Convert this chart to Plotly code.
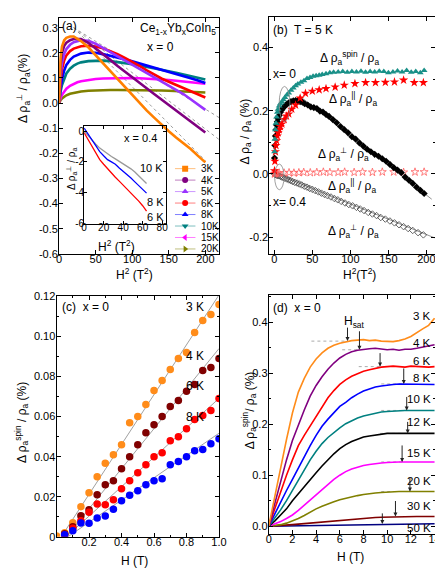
import plotly.graph_objects as go

W, H = 443, 568
FONT = "Liberation Sans, Arial, sans-serif"

# ================= DATA =================
# ---- panel (a): Δρ⊥/ρ (%) vs H^2, x = 0 ----
a_temps = ["3K", "4K", "5K", "6K", "8K", "10K", "15K", "20K"]
a_colors = ["#FF8000", "#800080", "#9933FF", "#FF0000", "#0000FF", "#008080", "#FF00FF", "#808000"]
a_symbols = ["square", "circle", "triangle-up", "circle", "triangle-up", "triangle-down", "triangle-left", "triangle-right"]
a_h2 = [0, 0.5, 1, 2, 4, 7, 10, 15, 20, 25, 30, 40, 50, 60, 70, 80, 90, 100, 110, 120, 130, 140, 150, 160, 170, 180, 190, 200]
a_3K = [0, 0.09, 0.13, 0.18, 0.225, 0.25, 0.26, 0.265, 0.265, 0.257, 0.247, 0.222, 0.19, 0.16, 0.128, 0.096, 0.064, 0.032, 0.0, -0.03, -0.058, -0.086, -0.112, -0.137, -0.16, -0.183, -0.21, -0.236]
a_4K = [0, 0.06, 0.1, 0.15, 0.2, 0.228, 0.24, 0.25, 0.255, 0.256, 0.255, 0.24, 0.218, 0.196, 0.172, 0.148, 0.125, 0.102, 0.08, 0.058, 0.036, 0.014, -0.008, -0.03, -0.052, -0.074, -0.096, -0.117]
a_5K = [0, 0.04, 0.07, 0.11, 0.16, 0.195, 0.215, 0.232, 0.242, 0.247, 0.25, 0.248, 0.236, 0.22, 0.203, 0.186, 0.17, 0.153, 0.136, 0.12, 0.103, 0.086, 0.07, 0.053, 0.036, 0.015, -0.006, -0.027]
a_6K = [0, 0.03, 0.055, 0.09, 0.135, 0.17, 0.19, 0.207, 0.217, 0.222, 0.226, 0.228, 0.225, 0.218, 0.208, 0.195, 0.18, 0.165, 0.148, 0.13, 0.113, 0.098, 0.085, 0.073, 0.061, 0.048, 0.035, 0.022]
a_8K = [0, 0.02, 0.035, 0.06, 0.095, 0.13, 0.152, 0.172, 0.185, 0.192, 0.197, 0.201, 0.2, 0.195, 0.189, 0.182, 0.174, 0.166, 0.158, 0.15, 0.141, 0.133, 0.124, 0.116, 0.107, 0.099, 0.09, 0.08]
a_10K = [0, 0.015, 0.027, 0.045, 0.072, 0.1, 0.118, 0.137, 0.149, 0.157, 0.162, 0.167, 0.169, 0.169, 0.167, 0.164, 0.16, 0.155, 0.15, 0.145, 0.139, 0.133, 0.127, 0.121, 0.115, 0.109, 0.102, 0.094]
a_15K = [0, 0.006, 0.011, 0.02, 0.033, 0.047, 0.057, 0.069, 0.077, 0.083, 0.087, 0.093, 0.096, 0.098, 0.099, 0.1, 0.1, 0.1, 0.099, 0.098, 0.096, 0.094, 0.092, 0.089, 0.086, 0.083, 0.08, 0.077]
a_20K = [0, 0.004, 0.007, 0.012, 0.019, 0.026, 0.031, 0.037, 0.041, 0.044, 0.046, 0.049, 0.051, 0.052, 0.052, 0.052, 0.052, 0.052, 0.052, 0.051, 0.05, 0.05, 0.049, 0.048, 0.047, 0.046, 0.044, 0.042]
a_series = [a_3K, a_4K, a_5K, a_6K, a_8K, a_10K, a_15K, a_20K]
# high-field linear fits (dotted) for 3K, 4K, 5K
a_fit_slope = [-0.00294, -0.00224, -0.0018]
a_fit_icpt = [0.359, 0.345, 0.336]
a_fit_from = [20, 20, 20]
a_fit_to = [200, 218.7, 218.7]

# ---- inset of (a): x = 0.4 ----
in_h2 = [0, 4, 8, 12, 16, 20, 24, 28, 32, 36, 40, 44, 48, 52, 56, 60, 64]
in_6K = [-0.1, -0.55, -1.0, -1.45, -1.85, -2.15, -2.45, -2.7, -3.0, -3.25, -3.5, -3.75, -4.0, -4.3, -4.55, -4.85, -5.2]
in_8K = [0.2, -0.2, -0.55, -0.95, -1.33, -1.6, -1.85, -2.0, -2.15, -2.4, -2.6, -2.85, -3.05, -3.3, -3.55, -3.8, -4.03]
in_10K = [0.0, -0.3, -0.55, -0.85, -1.1, -1.3, -1.5, -1.65, -1.8, -1.95, -2.1, -2.25, -2.45, -2.65, -2.9, -3.15, -3.4]

# ---- panel (b): T = 5 K ----
b_h2_spin = [0.3, 0.8, 1.5, 2.2, 3, 4, 5, 6.5, 8, 10, 12, 14, 16.5, 19, 22, 25, 28, 31, 35, 39, 43, 47, 51, 55, 59, 63, 68, 73, 78, 84, 90, 96, 102, 108, 114, 120, 126, 132, 138, 144, 150, 156, 162, 168, 174, 180, 186, 192, 197]
b_spin = [0.07, 0.11, 0.14, 0.16, 0.18, 0.195, 0.205, 0.215, 0.222, 0.228, 0.235, 0.242, 0.25, 0.256, 0.265, 0.272, 0.279, 0.285, 0.29, 0.295, 0.302, 0.305, 0.309, 0.311, 0.312, 0.315, 0.317, 0.32, 0.322, 0.323, 0.324, 0.322, 0.324, 0.323, 0.325, 0.322, 0.324, 0.323, 0.325, 0.324, 0.32, 0.323, 0.326, 0.323, 0.327, 0.322, 0.324, 0.32, 0.327]
b_h2_par0 = [0.3, 0.8, 1.5, 2.2, 3, 4, 5, 6.5, 8, 10, 13, 16, 19, 23, 28, 34, 41, 50, 59, 68, 80, 92, 106, 120, 133, 146, 158, 170, 184, 196]
b_par0 = [0.01, 0.04, 0.07, 0.09, 0.105, 0.12, 0.13, 0.14, 0.15, 0.158, 0.172, 0.183, 0.19, 0.205, 0.218, 0.24, 0.255, 0.262, 0.266, 0.27, 0.275, 0.281, 0.286, 0.289, 0.289, 0.29, 0.291, 0.297, 0.289, 0.289]
b_h2_perp0 = [0.3, 0.8, 1.5, 2.2, 3, 4, 5, 6.5, 8, 10, 12, 14, 16.5, 19, 22, 25, 28, 31, 34, 37, 40, 44, 48, 52, 56, 60, 64, 68, 72, 77, 82, 87, 92, 97, 102, 107, 112, 117, 122, 127, 132, 137, 142, 147, 152, 157, 162, 167, 172, 177, 182, 187, 192, 197]
b_perp0 = [0.05, 0.09, 0.12, 0.14, 0.155, 0.165, 0.175, 0.185, 0.195, 0.203, 0.21, 0.215, 0.221, 0.225, 0.229, 0.231, 0.232, 0.231, 0.229, 0.227, 0.222, 0.218, 0.212, 0.21, 0.207, 0.199, 0.196, 0.188, 0.182, 0.172, 0.162, 0.15, 0.14, 0.13, 0.118, 0.11, 0.098, 0.088, 0.078, 0.07, 0.062, 0.056, 0.048, 0.04, 0.03, 0.02, 0.012, 0.004, -0.01, -0.02, -0.03, -0.042, -0.052, -0.062]
b_h2_par4 = [0.3, 1, 2, 3.5, 6.4, 12.9, 19.4, 25.8, 32.3, 38.7, 47.3, 55.9, 64.5, 73.1, 83.9, 92.5, 105, 116, 129, 142, 157, 170, 185, 197]
b_par4 = [0.0, 0.001, 0.002, 0.002, 0.003, 0.003, 0.004, 0.003, 0.004, 0.005, 0.004, 0.005, 0.006, 0.005, 0.005, 0.006, 0.005, 0.006, 0.005, 0.006, 0.006, 0.005, 0.006, 0.006]
b_h2_perp4 = [0.5, 1.5, 3, 4.5, 6, 8, 10, 12, 14, 16.5, 19, 21.5, 24, 27, 30, 33, 36, 39.5, 43, 46.5, 50, 54, 58, 62, 66, 70, 74.5, 79, 83.5, 88, 93, 98, 103, 108, 113, 118, 123.5, 129, 134.5, 140, 146, 152, 158, 164, 170, 176, 182, 189, 196]
b_perp4 = [-0.001, -0.002, -0.004, -0.005, -0.006, -0.008, -0.01, -0.012, -0.014, -0.016, -0.019, -0.021, -0.024, -0.027, -0.029, -0.032, -0.035, -0.039, -0.042, -0.046, -0.049, -0.053, -0.057, -0.061, -0.065, -0.069, -0.073, -0.078, -0.082, -0.087, -0.092, -0.097, -0.101, -0.106, -0.111, -0.116, -0.122, -0.127, -0.132, -0.138, -0.143, -0.149, -0.155, -0.161, -0.167, -0.173, -0.179, -0.186, -0.193]
# linear fits in (b): x=0 perp and x=0.4 perp
b_fit_slope = [-0.00188, -0.00097]
b_fit_icpt = [0.309, 0.002]
b_fit_from = [33, 0]
b_fit_to = [207, 211]

# ---- panel (c): Δρspin/ρ vs H (low field) ----
c_temps = ["3 K", "4 K", "6 K", "8 K"]
c_colors = ["#FF8C1A", "#800000", "#FF0000", "#0000FF"]
c_h_3K = [0, 0.05, 0.1, 0.15, 0.2, 0.25, 0.3, 0.35, 0.4, 0.45, 0.5, 0.55, 0.6, 0.65, 0.7, 0.75, 0.8, 0.85, 0.9, 0.95, 1.0]
c_3K = [0.0003, 0.002, 0.007, 0.015, 0.022, 0.030, 0.0367, 0.041, 0.046, 0.057, 0.060, 0.066, 0.073, 0.078, 0.0836, 0.089, 0.092, 0.102, 0.108, 0.111, 0.116]
c_h_4K = [0.05, 0.1, 0.15, 0.2, 0.25, 0.3, 0.35, 0.4, 0.45, 0.5, 0.55, 0.6, 0.65, 0.7, 0.75, 0.8, 0.85, 0.9, 0.95, 1.0]
c_4K = [0.0015, 0.005, 0.0105, 0.0135, 0.021, 0.026, 0.028, 0.034, 0.040, 0.046, 0.052, 0.056, 0.060, 0.065, 0.068, 0.0727, 0.076, 0.083, 0.0846, 0.089]
c_h_6K = [0.05, 0.1, 0.15, 0.2, 0.25, 0.3, 0.35, 0.4, 0.45, 0.5, 0.55, 0.6, 0.65, 0.7, 0.75, 0.8, 0.85, 0.9, 0.95, 1.0]
c_6K = [0.001, 0.0042, 0.008, 0.0122, 0.0163, 0.016, 0.0185, 0.024, 0.028, 0.032, 0.036, 0.040, 0.042, 0.048, 0.050, 0.054, 0.0585, 0.0605, 0.063, 0.069]
c_h_8K = [0.05, 0.1, 0.15, 0.2, 0.25, 0.3, 0.35, 0.4, 0.45, 0.5, 0.55, 0.6, 0.65, 0.7, 0.75, 0.8, 0.85, 0.9, 0.95, 1.0]
c_8K = [0.001, 0.003, 0.0068, 0.0067, 0.0093, 0.0104, 0.0137, 0.018, 0.0207, 0.023, 0.026, 0.028, 0.029, 0.036, 0.0376, 0.040, 0.043, 0.0436, 0.0465, 0.049]
c_h = [c_h_3K, c_h_4K, c_h_6K, c_h_8K]
c_series = [c_3K, c_4K, c_6K, c_8K]
c_fit_slope = [0.1245, 0.1, 0.0735, 0.0556]
c_fit_icpt = [-0.0037, -0.006, -0.0044, -0.0039]

# ---- panel (d): Δρspin/ρ vs H up to 14 T ----
d_temps = ["3 K", "4 K", "6 K", "8 K", "10 K", "12 K", "15 K", "20 K", "30 K", "50 K"]
d_colors = ["#FF8C1A", "#800080", "#FF0000", "#0000FF", "#008080", "#000000", "#FF00FF", "#808000", "#800000", "#000080"]
d_h = [0, 0.5, 1, 1.5, 2, 2.5, 3, 3.5, 4, 4.5, 5, 5.5, 6, 6.5, 7, 7.5, 8, 8.5, 9, 9.5, 10, 10.5, 11, 11.5, 12, 12.5, 13, 13.5, 14]
d_3K = [0, 0.058, 0.115, 0.17, 0.222, 0.263, 0.29, 0.312, 0.328, 0.34, 0.349, 0.355, 0.359, 0.362, 0.364, 0.365, 0.366, 0.364, 0.365, 0.363, 0.362, 0.362, 0.364, 0.367, 0.372, 0.38, 0.387, 0.394, 0.408]
d_4K = [0, 0.044, 0.089, 0.13, 0.168, 0.2, 0.228, 0.255, 0.276, 0.293, 0.308, 0.32, 0.33, 0.337, 0.342, 0.345, 0.347, 0.348, 0.349, 0.348, 0.346, 0.347, 0.345, 0.347, 0.347, 0.349, 0.351, 0.353, 0.356]
d_6K = [0, 0.034, 0.069, 0.1, 0.13, 0.158, 0.178, 0.197, 0.215, 0.235, 0.252, 0.266, 0.278, 0.287, 0.294, 0.299, 0.304, 0.307, 0.31, 0.312, 0.313, 0.314, 0.313, 0.312, 0.314, 0.313, 0.313, 0.312, 0.313]
d_8K = [0, 0.024, 0.048, 0.07, 0.092, 0.115, 0.137, 0.158, 0.178, 0.196, 0.21, 0.223, 0.235, 0.243, 0.252, 0.259, 0.265, 0.269, 0.273, 0.275, 0.277, 0.278, 0.279, 0.279, 0.279, 0.279, 0.279, 0.278, 0.278]
d_10K = [0, 0.015, 0.032, 0.05, 0.07, 0.09, 0.11, 0.13, 0.147, 0.162, 0.174, 0.184, 0.193, 0.201, 0.207, 0.212, 0.216, 0.219, 0.222, 0.224, 0.225, 0.226, 0.227, 0.227, 0.227, 0.227, 0.227, 0.227, 0.227]
d_12K = [0, 0.01, 0.022, 0.034, 0.05, 0.064, 0.079, 0.092, 0.105, 0.118, 0.131, 0.142, 0.152, 0.16, 0.166, 0.171, 0.175, 0.177, 0.179, 0.181, 0.182, 0.182, 0.182, 0.183, 0.182, 0.182, 0.182, 0.182, 0.182]
d_15K = [0, 0.004, 0.009, 0.015, 0.022, 0.031, 0.041, 0.052, 0.062, 0.072, 0.082, 0.092, 0.1, 0.107, 0.112, 0.116, 0.119, 0.121, 0.123, 0.124, 0.125, 0.126, 0.126, 0.126, 0.126, 0.126, 0.126, 0.126, 0.126]
d_20K = [0, 0.001, 0.003, 0.006, 0.01, 0.015, 0.021, 0.028, 0.034, 0.039, 0.044, 0.048, 0.052, 0.055, 0.058, 0.06, 0.062, 0.064, 0.065, 0.066, 0.067, 0.067, 0.068, 0.068, 0.068, 0.068, 0.068, 0.068, 0.068]
d_30K = [0, 0.0005, 0.001, 0.002, 0.003, 0.004, 0.005, 0.0065, 0.008, 0.009, 0.01, 0.011, 0.012, 0.013, 0.014, 0.015, 0.016, 0.0165, 0.017, 0.0175, 0.018, 0.0185, 0.019, 0.019, 0.019, 0.019, 0.019, 0.019, 0.019]
d_50K = [0, 0.0002, 0.0005, 0.0008, 0.001, 0.0013, 0.0015, 0.0018, 0.002, 0.0022, 0.0025, 0.0027, 0.003, 0.0032, 0.0034, 0.0036, 0.0038, 0.004, 0.004, 0.0042, 0.0043, 0.0044, 0.0045, 0.0045, 0.0046, 0.0046, 0.0047, 0.0047, 0.0048]
d_series = [d_3K, d_4K, d_6K, d_8K, d_10K, d_12K, d_15K, d_20K, d_30K, d_50K]
# saturation field arrows (H_sat) and saturation levels
d_hsat = [6.65, 7.66, 9.4, 11.4, 11.65, 11.73, 11.26, 11.92, 10.7, 9.59]
d_sat_level = [0.363, 0.346, 0.313, 0.279, 0.227, 0.182, 0.126, 0.068, 0.019, 0.0045]
d_dot_from = [3.6, 6.2, 7.6, 9.5, 9.5, 9.4, 9.5, 9.5]
d_dot_to = [6.65, 7.7, 9.5, 11.4, 11.7, 11.9, 11.3, 12.0]

for arr_x, arrs in [(a_h2, a_series), (d_h, d_series)]:
    for s in arrs:
        assert len(s) == len(arr_x)

# ================= FIGURE =================
def PX(x):
    return x / W

def PY(y):
    return 1 - y / H

def axis(domain, rng, anchor, tickvals, ticktext, size=11, minor=None, **kw):
    d = dict(domain=domain, range=rng, anchor=anchor, showline=True, linecolor="black",
             linewidth=1, mirror="ticks", ticks="inside", ticklen=4, tickwidth=1,
             tickcolor="black", showgrid=False, zeroline=False, tickmode="array",
             tickvals=tickvals, ticktext=ticktext,
             tickfont=dict(size=size, family=FONT, color="black"))
    if minor is not None:
        d["minor"] = dict(tickvals=minor, ticks="inside", ticklen=2, tickcolor="black", showgrid=False)
    d.update(kw)
    return d

def fmt(vals, n):
    return [("%." + str(n) + "f") % v for v in vals]

fig = go.Figure()

# ---- (a) ----
for k in range(len(a_fit_slope)):
    xs = [a_fit_from[k], a_fit_to[k]]
    ys = [a_fit_icpt[k] + a_fit_slope[k] * x for x in xs]
    fig.add_trace(go.Scatter(x=xs, y=ys, mode="lines", xaxis="x", yaxis="y",
                             line=dict(color="#9a9a9a", width=1, dash="dot"), showlegend=False))
for k in reversed(range(len(a_temps))):
    fig.add_trace(go.Scatter(x=a_h2, y=a_series[k], mode="lines", xaxis="x", yaxis="y",
                             line=dict(color=a_colors[k], width=2.6), showlegend=False))

# ---- inset ----
for vals, col in [(in_10K, "#999999"), (in_8K, "#0000FF"), (in_6K, "#FF0000")]:
    fig.add_trace(go.Scatter(x=in_h2, y=vals, mode="lines", xaxis="x5", yaxis="y5",
                             line=dict(color=col, width=1.3), showlegend=False))

# ---- custom legend for (a) ----
n_leg = len(a_temps)
for k in range(n_leg):
    yy = n_leg - 0.5 - k
    fig.add_trace(go.Scatter(x=[0, 0.47], y=[yy, yy], mode="lines", xaxis="x6", yaxis="y6",
                             line=dict(color=a_colors[k], width=1), opacity=0.5, showlegend=False))
    fig.add_trace(go.Scatter(x=[0.235], y=[yy], mode="markers", xaxis="x6", yaxis="y6",
                             marker=dict(symbol=a_symbols[k], color=a_colors[k], size=6), showlegend=False))

# ---- (b) ----
for k in range(len(b_fit_slope)):
    xs = [b_fit_from[k], b_fit_to[k]]
    ys = [b_fit_icpt[k] + b_fit_slope[k] * x for x in xs]
    fig.add_trace(go.Scatter(x=xs, y=ys, mode="lines", xaxis="x2", yaxis="y2",
                             line=dict(color="#777777", width=0.8), showlegend=False))
fig.add_trace(go.Scatter(x=b_h2_perp4, y=b_perp4, mode="markers", xaxis="x2", yaxis="y2",
                         marker=dict(symbol="diamond-open", color="#444444", size=5, line=dict(width=0.8)), showlegend=False))
fig.add_trace(go.Scatter(x=b_h2_par4, y=b_par4, mode="markers", xaxis="x2", yaxis="y2",
                         marker=dict(symbol="star-open", color="#FF6060", size=6, line=dict(width=0.8)), showlegend=False))
fig.add_trace(go.Scatter(x=b_h2_perp0, y=b_perp0, mode="markers", xaxis="x2", yaxis="y2",
                         marker=dict(symbol="diamond", color="#000000", size=5.5), showlegend=False))
fig.add_trace(go.Scatter(x=b_h2_par0, y=b_par0, mode="markers", xaxis="x2", yaxis="y2",
                         marker=dict(symbol="star", color="#FF0000", size=7), showlegend=False))
fig.add_trace(go.Scatter(x=b_h2_spin, y=b_spin, mode="markers", xaxis="x2", yaxis="y2",
                         marker=dict(symbol="triangle-up", color="#1A9088", size=6), showlegend=False))

# ---- (c) ----
for k in range(len(c_temps)):
    x0 = -c_fit_icpt[k] / c_fit_slope[k]
    xs = [x0, 1.0]
    ys = [c_fit_icpt[k] + c_fit_slope[k] * x for x in xs]
    fig.add_trace(go.Scatter(x=xs, y=ys, mode="lines", xaxis="x3", yaxis="y3",
                             line=dict(color="#888888", width=0.8), showlegend=False))
for k in range(len(c_temps)):
    fig.add_trace(go.Scatter(x=c_h[k], y=c_series[k], mode="markers", xaxis="x3", yaxis="y3",
                             marker=dict(color=c_colors[k], size=7.5), showlegend=False))

# ---- (d) ----
for k in range(len(d_dot_from)):
    fig.add_trace(go.Scatter(x=[d_dot_from[k], d_dot_to[k]], y=[d_sat_level[k], d_sat_level[k]],
                             mode="lines", xaxis="x4", yaxis="y4",
                             line=dict(color="#aaaaaa", width=1, dash="dot"), showlegend=False))
for k in reversed(range(len(d_temps))):
    fig.add_trace(go.Scatter(x=d_h, y=d_series[k], mode="lines", xaxis="x4", yaxis="y4",
                             line=dict(color=d_colors[k], width=1.6), showlegend=False))

# ---- axes ----
layout = dict(
    width=W, height=H, margin=dict(l=0, r=0, t=0, b=0),
    paper_bgcolor="white", plot_bgcolor="rgba(0,0,0,0)",
    font=dict(family=FONT, color="black", size=11),
    showlegend=False,
)
XSO = -5  # tick labels sit close to the x axes
a_yt = [-0.6, -0.5, -0.4, -0.3, -0.2, -0.1, 0.0, 0.1, 0.2, 0.3]
layout["xaxis"] = axis([PX(49.3), PX(213.3)], [0, 218.7], "y", [0, 50, 100, 150, 200],
                       ["0", "50", "100", "150", "200"], ticklabelstandoff=XSO)
layout["yaxis"] = axis([PY(245), PY(4)], [-0.6, 0.339], "x", a_yt, fmt(a_yt, 1), ticklabelstandoff=-2)
b_yt = [-0.2, 0.0, 0.2, 0.4]
layout["xaxis2"] = axis([PX(265), PX(434.5)], [-6.4, 210.9], "y2", [0, 50, 100, 150, 200],
                        ["0", "50", "100", "150", "200"], ticklabelstandoff=XSO)
layout["yaxis2"] = axis([PY(245), PY(3.3)], [-0.253, 0.496], "x2", b_yt, fmt(b_yt, 1),
                        minor=[-0.1, 0.1, 0.3], ticklabelstandoff=-2)
c_yt = [0, 0.02, 0.04, 0.06, 0.08, 0.10, 0.12]
c_xt = [0.2, 0.4, 0.6, 0.8, 1.0]
layout["xaxis3"] = axis([PX(46.7), PX(213.3)], [0, 1.0], "y3", c_xt, fmt(c_xt, 1),
                        minor=[0.1, 0.3, 0.5, 0.7, 0.9], ticklabelstandoff=XSO)
layout["yaxis3"] = axis([PY(534), PY(288)], [0, 0.1203], "x3", c_yt, ["0"] + fmt(c_yt[1:], 2),
                        minor=[0.01, 0.03, 0.05, 0.07, 0.09, 0.11], ticklabelstandoff=-2)
d_yt = [0.0, 0.1, 0.2, 0.3, 0.4]
d_xt = [0, 2, 4, 6, 8, 10, 12, 14]
layout["xaxis4"] = axis([PX(264.3), PX(435.3)], [0, 14.08], "y4", d_xt, [str(v) for v in d_xt],
                        ticklabelstandoff=XSO)
layout["yaxis4"] = axis([PY(531), PY(287.3)], [-0.0149, 0.453], "x4", d_yt, fmt(d_yt, 1),
                        minor=[0.05, 0.15, 0.25, 0.35, 0.45], ticklabelstandoff=-2)
in_xt = [0, 20, 40, 60, 80]
in_yt = [0, -2, -4, -6]
layout["xaxis5"] = axis([PX(75), PX(159.3)], [0, 84.3], "y5", in_xt, [str(v) for v in in_xt],
                        size=10, ticklen=3, ticklabelstandoff=-6)
layout["yaxis5"] = axis([PY(214.7), PY(114.7)], [-6.05, 0.32], "x5", in_yt, [str(v) for v in in_yt],
                        size=10, ticklen=3, ticklabelstandoff=-3)
layout["xaxis6"] = dict(domain=[PX(168), PX(213)], range=[0, 1], anchor="y6", visible=False, fixedrange=True)
layout["yaxis6"] = dict(domain=[PY(245.9), PY(152.1)], range=[0, n_leg], anchor="x6", visible=False, fixedrange=True)
fig.update_layout(**layout)

# ---- annotations ----
ann = []

def text(x, y, s, size=12, xanchor="center", yanchor="middle", angle=0):
    ann.append(dict(x=PX(x), y=PY(y), xref="paper", yref="paper", text=s, showarrow=False,
                    xanchor=xanchor, yanchor=yanchor, textangle=angle,
                    font=dict(size=size, family=FONT, color="black")))

RHO = "Δ ρ<sub>a</sub>"
# (a)
text(50, 12.5, "(a)", xanchor="left")
text(212, 15, "Ce<sub>1-x</sub>Yb<sub>x</sub>CoIn<sub>5</sub>", xanchor="right")
text(137, 33.5, "x = 0", xanchor="left")
text(13, 76, RHO + "<sup>⊥</sup> / ρ<sub>a</sub>(%)", angle=-90)
text(127, 266, "H<sup>2</sup> (T<sup>2</sup>)")
# inset
text(133, 126.5, "x = 0.4", size=11)
text(144, 157.5, "10 K", size=11)
text(148, 192.5, "8 K", size=11)
text(148, 207.5, "6 K", size=11)
text(62, 158, RHO + "<sup>⊥</sup> / ρ<sub>a</sub>", size=10, angle=-90)
text(108, 236.5, "H<sup>2</sup> (T<sup>2</sup>)", size=12)
# legend labels
for k in range(n_leg):
    ann.append(dict(x=0.55, y=n_leg - 0.5 - k, xref="x6", yref="y6", text=a_temps[k], showarrow=False,
                    xanchor="left", yanchor="middle", font=dict(size=10, family=FONT, color="black")))
# (b)
text(267, 16, "(b)  T = 5 K", xanchor="left")
text(347, 45, RHO + "<sup>spin</sup> / ρ<sub>a</sub>")
text(267, 61, "x= 0", xanchor="left")
text(351, 87, RHO + "<sup>||</sup> / ρ<sub>a</sub>")
text(341, 143, RHO + "<sup>⊥</sup> / ρ<sub>a</sub>")
text(350, 176, RHO + "<sup>||</sup> / ρ<sub>a</sub>")
text(267, 192, "x= 0.4", xanchor="left")
text(351, 222, RHO + "<sup>⊥</sup> / ρ<sub>a</sub>")
text(241, 120, RHO + " / ρ<sub>a</sub> (%)", angle=-90)
text(357, 266, "H<sup>2</sup>(T<sup>2</sup>)")
# (c)
text(50, 299, "(c)  x = 0", xanchor="left")
for lab, yy in zip(c_temps, [299, 349, 380, 412]):
    text(200, yy, lab, xanchor="right")
text(11, 417, RHO + "<sup>spin</sup> / ρ<sub>a</sub> (%)", angle=-90)
text(127, 559, "H (T)")
# (d)
text(267, 300, "(d)  x = 0", xanchor="left")
text(352, 315, "H<sub>sat</sub>")
for lab, yy in zip(d_temps, [309, 336, 354, 372, 393, 417, 448, 477, 503, 525]):
    text(433, yy, lab, xanchor="right", size=11.5)
text(245, 405, RHO + "<sup>spin</sup>/ ρ<sub>a</sub> (%)", angle=-90)
text(348, 555, "H (T)")

arrow_len = [15, 20, 15, 17, 15, 13, 18, 15, 17, 12]
for k in range(len(d_hsat)):
    ann.append(dict(x=d_hsat[k], y=d_sat_level[k], xref="x4", yref="y4", text="", showarrow=True,
                    ax=0, ay=-arrow_len[k], arrowhead=2, arrowsize=0.8, arrowwidth=1,
                    arrowcolor="#222222", standoff=0))

fig.update_layout(annotations=ann)

# ellipses in (b)
fig.update_layout(shapes=[
    dict(type="circle", xref="x2", yref="y2", x0=6.4, x1=20.5, y0=0.166, y1=0.277,
         line=dict(color="#888888", width=0.8)),
    dict(type="circle", xref="x2", yref="y2", x0=0.5, x1=12.8, y0=-0.05, y1=0.031,
         line=dict(color="#888888", width=0.8)),
])

fig.write_html("out.html")
